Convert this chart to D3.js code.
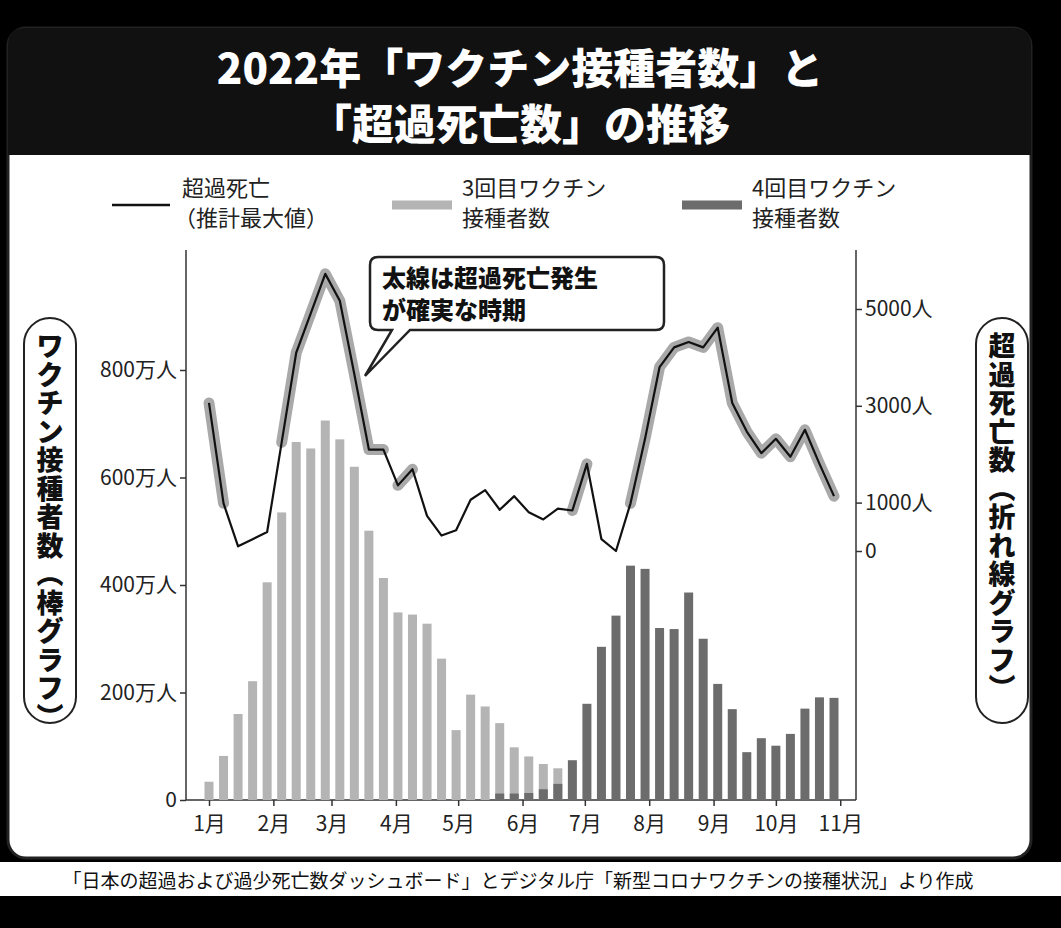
<!DOCTYPE html>
<html><head><meta charset="utf-8">
<script src="https://cdn.jsdelivr.net/npm/d3@7"></script>
<style>body{margin:0;background:#000;}svg{display:block;font-family:"Noto Sans CJK JP","Noto Sans",sans-serif;}</style>
</head><body><svg id="c" width="1061" height="928"></svg>
<script>
const dose3 = [34,82,160,221,405,535,666,654,706,671,620,501,413,349,345,328,263,130,196,174,143,98,81,67,59];
const dose4Start = 20;
const dose4 = [12,12,13,20,30,74,179,285,343,436,430,320,318,386,300,216,169,89,115,101,123,170,191,190];
const deaths = [3059,985,96,244,393,2244,4096,4911,5726,5170,3652,2096,2096,1356,1689,726,319,430,1059,1259,852,1133,800,652,874,837,1800,244,0,985,2318,3800,4207,4318,4207,4615,3059,2467,2022,2318,1948,2504,1800,1133];
const thickSegments = [[0,1],[5,12],[13,14],[25,26],[29,43]];
const monthLabels = ["1月","2月","3月","4月","5月","6月","7月","8月","9月","10月","11月"];
const monthDays = [0,31,59,90,120,151,181,212,243,273,304];
const leftTicks = [0,200,400,600,800];
const leftTickLabels = ["0","200万人","400万人","600万人","800万人"];
const rightTicks = [0,1000,3000,5000];
const rightTickLabels = ["0","1000人","3000人","5000人"];

const svg = d3.select("#c");
svg.append("rect").attr("x",8).attr("y",28).attr("width",1023).attr("height",830).attr("rx",18).attr("fill","#fff").attr("stroke","#222").attr("stroke-width",3);
svg.append("rect").attr("x",0).attr("y",862).attr("width",1061).attr("height",34).attr("fill","#fff");
svg.append("path").attr("d","M8,155 L8,46 Q8,28 26,28 L1013,28 Q1031,28 1031,46 L1031,155 Z").attr("fill","#111");
svg.append("text").attr("x",520).attr("y",84).attr("text-anchor","middle").attr("fill","#fff").attr("font-size",42).attr("font-weight",900).text("2022年「ワクチン接種者数」と");
svg.append("text").attr("x",520).attr("y",140).attr("text-anchor","middle").attr("fill","#fff").attr("font-size",42).attr("font-weight",900).text("「超過死亡数」の推移");
svg.append("text").attr("x",518).attr("y",888).attr("text-anchor","middle").attr("fill","#111").attr("font-size",19).text("「日本の超過および過少死亡数ダッシュボード」とデジタル庁「新型コロナワクチンの接種状況」より作成");

const x = d3.scaleLinear().domain([0,43]).range([209,834]);
const xd = d3.scaleLinear().domain([0,301]).range([x(0),x(43)]);
const yL = d3.scaleLinear().domain([0,800]).range([800,370]);
const yR = d3.scaleLinear().domain([0,5000]).range([551,309]);
const bw = 9;

const gL = svg.append("g").attr("transform","translate(186,0)").call(d3.axisLeft(yL).tickValues(leftTicks).tickFormat((d,i)=>leftTickLabels[i]).tickSize(6));
gL.select(".domain").attr("d","M0,250V800");
const gR = svg.append("g").attr("transform","translate(856,0)").call(d3.axisRight(yR).tickValues(rightTicks).tickFormat((d,i)=>rightTickLabels[i]).tickSize(6));
gR.select(".domain").attr("d","M0,250V800");
const gX = svg.append("g").attr("transform","translate(0,800)").call(d3.axisBottom(xd).tickValues(monthDays).tickFormat((d,i)=>monthLabels[i]).tickSize(6));
gX.select(".domain").attr("d","M186,0H856");
[gL,gR,gX].forEach(g=>{g.attr("font-size",21).attr("font-family","Noto Sans CJK JP");g.selectAll("text").attr("fill","#222");g.selectAll("line,path").attr("stroke","#333").attr("stroke-width",1.5);});
gX.selectAll("text").attr("dy","1.05em");

svg.append("g").selectAll("rect").data(dose3).join("rect")
 .attr("x",(d,i)=>x(i)-bw/2).attr("width",bw).attr("y",d=>yL(d)).attr("height",d=>800-yL(d)).attr("fill","#b4b4b4");
svg.append("g").selectAll("rect").data(dose4).join("rect")
 .attr("x",(d,i)=>x(i+dose4Start)-bw/2).attr("width",bw).attr("y",d=>yL(d)).attr("height",d=>800-yL(d)).attr("fill","#6c6c6c");

const line = d3.line().x(d=>x(d.i)).y(d=>yR(d.v));
const pts = deaths.map((v,i)=>({i,v}));
thickSegments.forEach(([a,b])=>{
 svg.append("path").attr("d",line(pts.slice(a,b+1))).attr("fill","none").attr("stroke","#a9a9a9").attr("stroke-width",11).attr("stroke-linecap","round").attr("stroke-linejoin","round");
});
svg.append("path").attr("d",line(pts)).attr("fill","none").attr("stroke","#111").attr("stroke-width",2.2).attr("stroke-linejoin","round");

svg.append("path").attr("d","M378,257 H656 Q664,257 664,265 V322 Q664,330 656,330 H410 L365,376 L392,330 H378 Q370,330 370,322 V265 Q370,257 378,257 Z").attr("fill","#fff").attr("stroke","#222").attr("stroke-width",2.5);
svg.append("text").attr("x",382).attr("y",287).attr("font-size",24).attr("font-weight",900).attr("fill","#111").text("太線は超過死亡発生");
svg.append("text").attr("x",382).attr("y",319).attr("font-size",24).attr("font-weight",900).attr("fill","#111").text("が確実な時期");

const lg = svg.append("g").attr("font-size",22).attr("fill","#222");
lg.append("line").attr("x1",112).attr("x2",170).attr("y1",205).attr("y2",205).attr("stroke","#111").attr("stroke-width",2.5);
lg.append("text").attr("x",182).attr("y",196).text("超過死亡");
lg.append("text").attr("x",174).attr("y",226).text("（推計最大値）");
lg.append("line").attr("x1",392).attr("x2",452).attr("y1",205).attr("y2",205).attr("stroke","#b4b4b4").attr("stroke-width",9);
lg.append("text").attr("x",462).attr("y",196).text("3回目ワクチン");
lg.append("text").attr("x",462).attr("y",226).text("接種者数");
lg.append("line").attr("x1",682).attr("x2",742).attr("y1",205).attr("y2",205).attr("stroke","#6c6c6c").attr("stroke-width",9);
lg.append("text").attr("x",752).attr("y",196).text("4回目ワクチン");
lg.append("text").attr("x",752).attr("y",226).text("接種者数");

function vtitle(cx, chars){
 svg.append("rect").attr("x",cx-26).attr("y",318).attr("width",52).attr("height",405).attr("rx",26).attr("fill","#fff").attr("stroke","#222").attr("stroke-width",2);
 const t = svg.append("text").attr("font-size",27).attr("font-weight",900).attr("fill","#111").attr("text-anchor","middle");
 chars.forEach((c,i)=>{ t.append("tspan").attr("x",cx).attr("y",356+i*28.5).text(c); });
}
vtitle(50, Array.from("ワクチン接種者数︵棒グラフ︶"));
vtitle(1002, Array.from("超過死亡数︵折れ線グラフ︶"));
</script></body></html>
